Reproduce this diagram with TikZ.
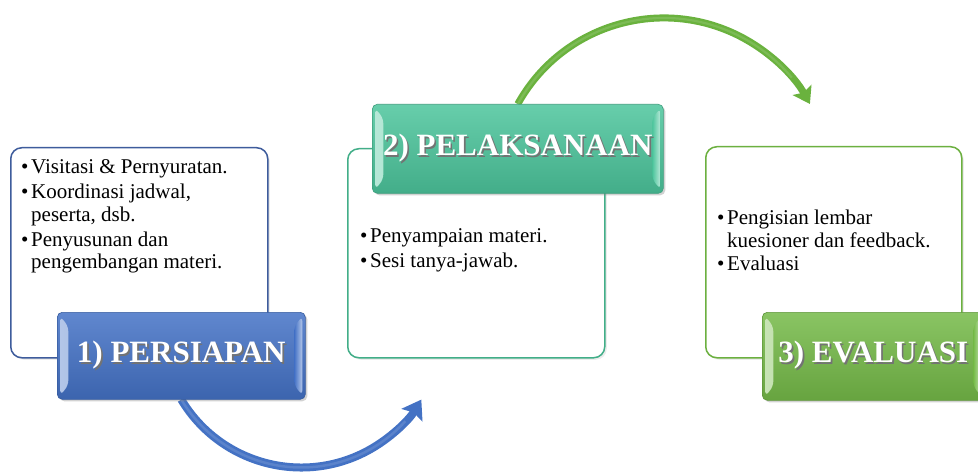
\documentclass[tikz,border=0pt]{standalone}
\usepackage{fontspec}
\setmainfont{Liberation Serif}
\usetikzlibrary{arrows.meta,shadows,backgrounds}
\definecolor{bOne}{HTML}{4472C6}
\definecolor{bTwo}{HTML}{4CC59C}
\definecolor{bThree}{HTML}{75BA48}
\definecolor{eOne}{HTML}{3E5C9C}
\definecolor{eTwo}{HTML}{42AE88}
\definecolor{eThree}{HTML}{6CB040}
\definecolor{arrOne}{HTML}{4472C4}
\definecolor{arrTwo}{HTML}{6AB23E}
\newcommand{\shtext}[1]{\makebox[0pt][l]{\hspace{1.6pt}\raisebox{-1.6pt}{\textcolor{black!55}{#1}}}\textcolor{white}{#1}}
\newcommand{\bul}{\makebox[10pt][l]{\textbullet}}
\newcommand{\ind}{\hspace*{10pt}}
\tikzset{
  infobox/.style={draw=#1, line width=1.5pt, fill=white, rounded corners=11pt,
    anchor=north west, inner sep=0pt,
    drop shadow={opacity=0.15, shadow xshift=2pt, shadow yshift=-2pt}},
  titlebox/.style={rounded corners=5pt, anchor=north west, inner sep=0pt,
    top color=#1!85!white, bottom color=#1!88!black, draw=#1!80!black, line width=0.6pt,
    drop shadow={opacity=0.35, shadow xshift=2pt, shadow yshift=-2pt},
    font=\fontsize{31}{31}\selectfont\bfseries,
    path picture={
      \shade[left color=#1!40!white, right color=#1]
        ([shift={(3,-4)}]path picture bounding box.north west) --
        ([shift={(11,-14)}]path picture bounding box.north west) --
        ([shift={(11,14)}]path picture bounding box.south west) --
        ([shift={(3,4)}]path picture bounding box.south west) -- cycle;
      \shade[right color=#1!40!white, left color=#1]
        ([shift={(-3,-4)}]path picture bounding box.north east) --
        ([shift={(-11,-14)}]path picture bounding box.north east) --
        ([shift={(-11,14)}]path picture bounding box.south east) --
        ([shift={(-3,4)}]path picture bounding box.south east) -- cycle;
    }},
  bodytext/.style={anchor=base west, inner sep=0pt, font=\fontsize{21}{22.5}\selectfont},
  flowarrow/.style={line width=#1}
}
\begin{document}
\begin{tikzpicture}[x=1pt,y=1pt]
\useasboundingbox (0,0) rectangle (978,472);
\clip (0,0) rectangle (978,472);

% group 1
\node[infobox=eOne, minimum width=257pt, minimum height=210pt] (b1) at (10,325) {};
\node[titlebox=bOne, minimum width=248pt, minimum height=87pt] (t1) at (57,160) {\shtext{1) PERSIAPAN}};
\node[bodytext] (x1) at (21,298) {\begin{tabular}[t]{@{}l@{}}
\bul Visitasi \& Pernyuratan.\\[2.5pt]
\bul Koordinasi jadwal,\\
\ind peserta, dsb.\\[2.5pt]
\bul Penyusunan dan\\
\ind pengembangan materi.
\end{tabular}};

% group 2
\node[infobox=eTwo, minimum width=257pt, minimum height=209pt] (b2) at (347,324) {};
\node[titlebox=bTwo, minimum width=291pt, minimum height=89pt] (t2) at (372,368) {\shtext{2) PELAKSANAAN}};
\node[bodytext] (x2) at (360,229) {\begin{tabular}[t]{@{}l@{}}
\bul Penyampaian materi.\\[2.5pt]
\bul Sesi tanya-jawab.
\end{tabular}};

% group 3
\node[infobox=eThree, minimum width=256pt, minimum height=211pt] (b3) at (705,326) {};
\node[titlebox=bThree, minimum width=222pt, minimum height=88pt] (t3) at (762,160) {\shtext{3) EVALUASI}};
\node[bodytext] (x3) at (717,247) {\begin{tabular}[t]{@{}l@{}}
\bul Pengisian lembar\\
\ind kuesioner dan feedback.\\[1pt]
\bul Evaluasi
\end{tabular}};

% arrows (behind the boxes)
\begin{scope}[on background layer]
\fill[white] (0,0) rectangle (978,472);
\draw[arrOne, flowarrow=8pt, -{Stealth[length=18pt,width=24pt,inset=3pt]}]
  (t1.south) arc[start angle=211, end angle=329, radius=140pt] coordinate (a1);
\draw[arrOne!88!white, flowarrow=2.5pt]
  (t1.south) arc[start angle=211, end angle=318, radius=140pt];
\draw[arrTwo, flowarrow=7pt, -{Stealth[length=16pt,width=21pt,inset=3pt]}]
  (t2.north) arc[start angle=151, end angle=29, radius=167pt] coordinate (a2);
\draw[arrTwo!88!white, flowarrow=2.2pt]
  (t2.north) arc[start angle=151, end angle=40, radius=167pt];
\end{scope}
\end{tikzpicture}
\end{document}
